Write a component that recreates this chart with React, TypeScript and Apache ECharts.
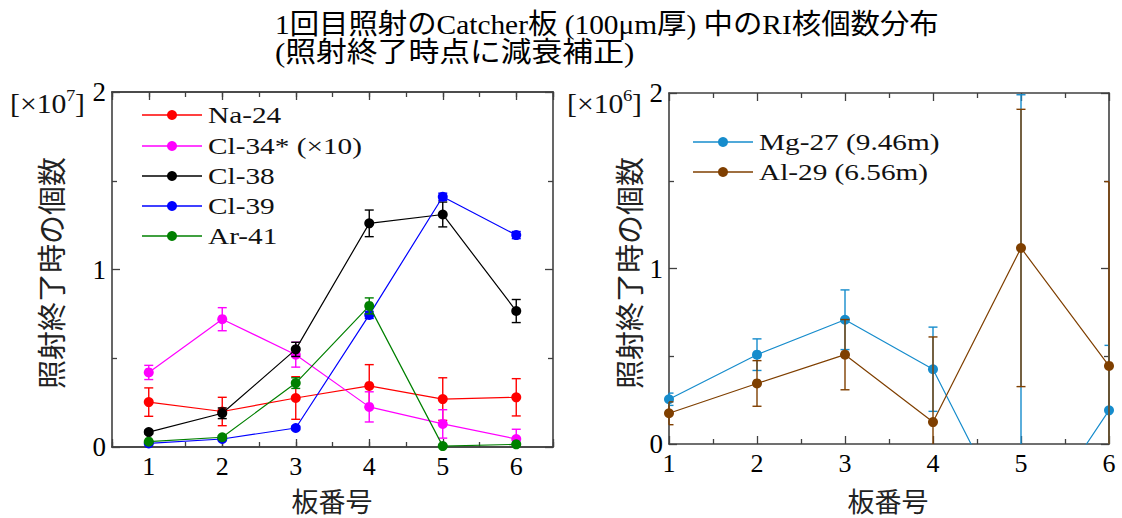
import React, { useEffect, useRef } from 'react';
import * as echarts from 'echarts';

// ---------- data ----------
const plates = [1, 2, 3, 4, 5, 6];
const xTickLabels = ['1', '2', '3', '4', '5', '6'];
const yTickLabels = ['0', '1', '2'];

// left panel, units of 1e7 nuclei
const leftNames = ['Na-24', 'Cl-34* (×10)', 'Cl-38', 'Cl-39', 'Ar-41'];
const leftColors = ['#ff0000', '#ff00ff', '#000000', '#0000ff', '#008000'];
const na24 = [0.253, 0.2, 0.276, 0.344, 0.27, 0.28];
const na24Err = [0.08, 0.08, 0.12, 0.12, 0.12, 0.105];
const cl34 = [0.42, 0.72, 0.52, 0.226, 0.13, 0.045];
const cl34Err = [0.04, 0.065, 0.07, 0.085, 0.08, 0.055];
const cl38 = [0.084, 0.19, 0.55, 1.26, 1.31, 0.766];
const cl38Err = [0.01, 0.03, 0.04, 0.075, 0.07, 0.065];
const cl39 = [0.02, 0.045, 0.107, 0.744, 1.41, 1.194];
const cl39Err = [0.005, 0.008, 0.01, 0.02, 0.02, 0.02];
const ar41 = [0.03, 0.055, 0.36, 0.795, 0.005, 0.015];
const ar41Err = [0.005, 0.008, 0.03, 0.045, 0.005, 0.005];
const leftValues = [na24, cl34, cl38, cl39, ar41];
const leftErrors = [na24Err, cl34Err, cl38Err, cl39Err, ar41Err];

// right panel, units of 1e6 nuclei
const rightNames = ['Mg-27 (9.46m)', 'Al-29 (6.56m)'];
const rightColors = ['#168ccc', '#7f3f00'];
const mg27 = [0.255, 0.509, 0.708, 0.426, -0.56, 0.192];
const mg27Err = [0.035, 0.09, 0.17, 0.24, 2.55, 0.37];
const al29 = [0.175, 0.345, 0.509, 0.125, 1.117, 0.445];
const al29Err = [0.065, 0.13, 0.2, 0.485, 0.79, 1.05];
const rightValues = [mg27, al29];
const rightErrors = [mg27Err, al29Err];

const titleLine1 = '1回目照射のCatcher板 (100μm厚) 中のRI核個数分布';
const titleLine2 = '(照射終了時点に減衰補正)';
const yName = '照射終了時の個数';
const xName = '板番号';

// ---------- style ----------
const SERIF = '"Liberation Serif", "Times New Roman", serif';
const MIXED = '"Liberation Serif", "Noto Sans CJK JP", serif';
const CJK = '"Noto Sans CJK JP", sans-serif';
const axisLineStyle = { color: '#404040', width: 1.6 };
const tickStyle = { color: '#404040', width: 1.3 };
const labelStyle = { fontFamily: SERIF, fontSize: 26, color: '#000' };

function errorBarRender(color: string) {
  return (params: any, api: any) => {
    const x = api.value(0);
    const lo = api.value(1);
    const hi = api.value(2);
    const pHi = api.coord([x, hi]);
    const pLo = api.coord([x, lo]);
    const cs = params.coordSys;
    const top = cs.y;
    const bottom = cs.y + cs.height;
    const left = cs.x;
    const right = cs.x + cs.width;
    const cx = pHi[0];
    const y1 = Math.max(pHi[1], top);
    const y2 = Math.min(pLo[1], bottom);
    const hw = 4.5;
    const l = Math.max(cx - hw, left);
    const r = Math.min(cx + hw, right);
    const style = { stroke: color, lineWidth: 1.4 };
    const children: any[] = [];
    if (y2 > y1) children.push({ type: 'line', shape: { x1: cx, y1, x2: cx, y2 }, style });
    if (pHi[1] >= top - 0.5 && pHi[1] <= bottom) children.push({ type: 'line', shape: { x1: l, y1: pHi[1], x2: r, y2: pHi[1] }, style });
    if (pLo[1] <= bottom + 0.5 && pLo[1] >= top) children.push({ type: 'line', shape: { x1: l, y1: pLo[1], x2: r, y2: pLo[1] }, style });
    return { type: 'group', children };
  };
}

function xMinorAxis(gridIndex: number, position: string) {
  return {
    type: 'value', gridIndex, position, min: 0.5, max: 6.5, interval: 0.5,
    axisLine: { show: true, onZero: false, lineStyle: axisLineStyle },
    axisTick: { show: true, inside: true, length: 5, lineStyle: tickStyle },
    axisLabel: { show: false }, splitLine: { show: false },
  };
}
function xMajorAxis(gridIndex: number, position: string, labels: boolean) {
  return {
    type: 'value', gridIndex, position, min: 0.5, max: 6.5, splitNumber: 6,
    axisLine: { show: true, onZero: false, lineStyle: axisLineStyle },
    axisTick: { show: true, inside: true, length: 8, lineStyle: tickStyle },
    axisLabel: labels
      ? { ...labelStyle, margin: 6, formatter: (v: number) => (Number.isInteger(v) ? xTickLabels[v - 1] ?? '' : '') }
      : { show: false },
    splitLine: { show: false },
  };
}
function xRightAxis(gridIndex: number, position: string, labels: boolean) {
  return {
    type: 'value', gridIndex, position, min: 1, max: 6, interval: 1,
    axisLine: { show: true, onZero: false, lineStyle: axisLineStyle },
    axisTick: { show: true, inside: true, length: 8, lineStyle: tickStyle },
    minorTick: { show: true, splitNumber: 2, length: 5, lineStyle: tickStyle },
    axisLabel: labels
      ? { ...labelStyle, margin: 6, formatter: (v: number) => xTickLabels[v - 1] ?? '' }
      : { show: false },
    splitLine: { show: false }, minorSplitLine: { show: false },
  };
}
function yAxis(gridIndex: number, position: string, labels: boolean) {
  return {
    type: 'value', gridIndex, position, min: 0, max: 2, interval: 1,
    axisLine: { show: true, onZero: false, lineStyle: axisLineStyle },
    axisTick: { show: true, inside: true, length: 8, lineStyle: tickStyle },
    minorTick: { show: true, splitNumber: 2, length: 5, lineStyle: tickStyle },
    axisLabel: labels
      ? { ...labelStyle, fontSize: 27, margin: 6, formatter: (v: number) => yTickLabels[v] ?? '' }
      : { show: false },
    splitLine: { show: false }, minorSplitLine: { show: false },
  };
}

function legendItems(names: string[], colors: string[], x0: number, rows: number[]) {
  const items: any[] = [];
  names.forEach((n, i) => {
    const y = rows[i];
    items.push({ type: 'line', shape: { x1: x0, y1: y, x2: x0 + 60, y2: y }, style: { stroke: colors[i], lineWidth: 1.3 } });
    items.push({ type: 'circle', shape: { cx: x0 + 30, cy: y, r: 5 }, style: { fill: colors[i] } });
    items.push({
      type: 'text', x: x0 + 66, y, scaleX: 1.22,
      style: { text: n, font: `24px ${SERIF}`, fill: '#111', textAlign: 'left', textVerticalAlign: 'middle', align: 'left', verticalAlign: 'middle' },
    });
  });
  return items;
}

function multiplier(x: number, y: number, exp: string) {
  return {
    type: 'group', x, y, scaleX: 1.1,
    children: [
      { type: 'text', x: 0, y: 0, style: { text: '[×10', font: `27px ${SERIF}`, fill: '#111', textAlign: 'left', textVerticalAlign: 'middle', align: 'left', verticalAlign: 'middle' } },
      { type: 'text', x: 51, y: -9, style: { text: exp, font: `17px ${SERIF}`, fill: '#111', textAlign: 'left', textVerticalAlign: 'middle', align: 'left', verticalAlign: 'middle' } },
      { type: 'text', x: 59, y: 0, style: { text: ']', font: `27px ${SERIF}`, fill: '#111', textAlign: 'left', textVerticalAlign: 'middle', align: 'left', verticalAlign: 'middle' } },
    ],
  };
}

function rotatedName(x: number, y: number) {
  return {
    type: 'text', x, y, rotation: Math.PI / 2,
    style: { text: yName, font: `29px ${CJK}`, fill: '#222', textAlign: 'center', textVerticalAlign: 'middle', align: 'center', verticalAlign: 'middle' },
  };
}
function xNameText(x: number, y: number) {
  return {
    type: 'text', x, y,
    style: { text: xName, font: `27px ${CJK}`, fill: '#222', textAlign: 'center', textVerticalAlign: 'middle', align: 'center', verticalAlign: 'middle' },
  };
}

export default function App() {
  const ref = useRef<HTMLDivElement>(null);
  useEffect(() => {
    document.body.style.margin = '0';
    if (!ref.current) return;
    const chart = echarts.init(ref.current, null, { renderer: 'svg' });

    const series: any[] = [];
    leftNames.forEach((name, i) => {
      series.push({
        type: 'custom', name: name + ' error', xAxisIndex: 1, yAxisIndex: 0,
        data: plates.map((p, k) => [p, leftValues[i][k] - leftErrors[i][k], leftValues[i][k] + leftErrors[i][k]]),
        encode: { x: 0, y: [1, 2] }, renderItem: errorBarRender(leftColors[i]), z: 2 + i, silent: true,
      });
      series.push({
        type: 'line', name, xAxisIndex: 1, yAxisIndex: 0,
        data: plates.map((p, k) => [p, leftValues[i][k]]),
        symbol: 'circle', symbolSize: 10, color: leftColors[i],
        itemStyle: { color: leftColors[i] }, lineStyle: { color: leftColors[i], width: 1.2 }, z: 2 + i,
      });
    });
    rightNames.forEach((name, i) => {
      series.push({
        type: 'custom', name: name + ' error', xAxisIndex: 4, yAxisIndex: 2,
        data: plates.map((p, k) => [p, rightValues[i][k] - rightErrors[i][k], rightValues[i][k] + rightErrors[i][k]]),
        encode: { x: 0, y: [1, 2] }, renderItem: errorBarRender(rightColors[i]), z: 2 + i, silent: true,
      });
      series.push({
        type: 'line', name, xAxisIndex: 4, yAxisIndex: 2,
        data: plates.map((p, k) => [p, rightValues[i][k]]),
        symbol: 'circle', symbolSize: 10, color: rightColors[i],
        itemStyle: { color: rightColors[i] }, lineStyle: { color: rightColors[i], width: 1.2 }, z: 2 + i,
      });
    });

    const option: any = {
      animation: false,
      backgroundColor: '#ffffff',
      textStyle: { fontFamily: SERIF },
      grid: [
        { left: 112, top: 92, width: 441, height: 355 },
        { left: 669, top: 93, width: 440, height: 351 },
      ],
      xAxis: [
        xMinorAxis(0, 'bottom'),
        xMajorAxis(0, 'bottom', true),
        xMinorAxis(0, 'top'),
        xMajorAxis(0, 'top', false),
        xRightAxis(1, 'bottom', true),
        xRightAxis(1, 'top', false),
      ],
      yAxis: [yAxis(0, 'left', true), yAxis(0, 'right', false), yAxis(1, 'left', true), yAxis(1, 'right', false)],
      series,
      graphic: [
        { type: 'text', x: 275, y: 24, scaleX: 1.05, style: { text: titleLine1, font: `28px ${MIXED}`, fill: '#000', textAlign: 'left', textVerticalAlign: 'middle', align: 'left', verticalAlign: 'middle' } },
        { type: 'text', x: 275, y: 52, scaleX: 1.1, style: { text: titleLine2, font: `28px ${MIXED}`, fill: '#000', textAlign: 'left', textVerticalAlign: 'middle', align: 'left', verticalAlign: 'middle' } },
        multiplier(10, 104, '7'),
        multiplier(567, 104, '6'),
        rotatedName(50, 273),
        rotatedName(628, 273),
        xNameText(332, 500),
        xNameText(888, 500),
        ...legendItems(leftNames, leftColors, 142, [115, 146, 176, 206, 236]),
        ...legendItems(rightNames, rightColors, 693, [142, 172]),
      ],
    };
    chart.setOption(option);
    return () => chart.dispose();
  }, []);
  return <div ref={ref} style={{ width: 1122, height: 518 }} />;
}
